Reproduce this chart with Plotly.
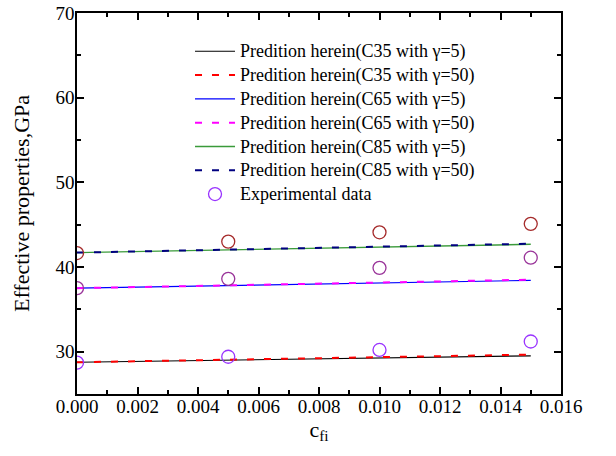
import plotly.graph_objects as go

cfi = [0.0, 0.005, 0.010, 0.015]

c35_g5 = [28.75, 29.02, 29.28, 29.50]
c35_g50 = [28.75, 29.05, 29.35, 29.65]
c65_g5 = [37.50, 37.80, 38.12, 38.42]
c65_g50 = [37.50, 37.83, 38.17, 38.50]
c85_g5 = [41.70, 42.02, 42.38, 42.68]
c85_g50 = [41.70, 42.04, 42.42, 42.75]

exp_c35 = [28.7, 29.4, 30.2, 31.2]
exp_c65 = [37.5, 38.6, 39.9, 41.1]
exp_c85 = [41.65, 43.0, 44.1, 45.1]

line_series = [
    ("Predition herein(C35 with γ=5)", c35_g5, "black", "solid", 1.2),
    ("Predition herein(C35 with γ=50)", c35_g50, "red", "7px,10px", 2),
    ("Predition herein(C65 with γ=5)", c65_g5, "blue", "solid", 1.2),
    ("Predition herein(C65 with γ=50)", c65_g50, "magenta", "7px,10px", 2),
    ("Predition herein(C85 with γ=5)", c85_g5, "#3a9a3a", "solid", 1.4),
    ("Predition herein(C85 with γ=50)", c85_g50, "navy", "7px,10px", 2),
]

def big(t):
    return '<span style="font-size:18px">' + t + '</span>'

fig = go.Figure()
for name, ys, col, dash, w in line_series:
    fig.add_trace(go.Scatter(x=cfi, y=ys, mode="lines", name=big(name),
                             line=dict(color=col, dash=dash, width=w)))

exp_sets = [(exp_c35, "#9933ff", True), (exp_c65, "#993399", False), (exp_c85, "#a52a2a", False)]
for ys, col, show in exp_sets:
    fig.add_trace(go.Scatter(x=cfi, y=ys, mode="markers", name=big("Experimental data"),
                             showlegend=show,
                             marker=dict(symbol="circle-open", size=13, color=col,
                                         line=dict(width=1.3, color=col))))

font = dict(family="Liberation Serif, Times New Roman, serif", color="black")

fig.update_layout(
    width=616, height=456,
    margin=dict(l=77, r=55, t=13, b=62),
    paper_bgcolor="white", plot_bgcolor="white",
    font=dict(**font, size=19),
    legend=dict(x=0.2335, y=0.944, xanchor="left", yanchor="top",
                bgcolor="rgba(0,0,0,0)", font=dict(**font, size=16),
                tracegroupgap=0, itemwidth=40),
    showlegend=True,
)
fig.update_xaxes(range=[0, 0.016], tick0=0, dtick=0.002, tickformat=".3f",
                 automargin=False,
                 ticks="inside", ticklen=7, tickwidth=1.5, tickcolor="black",
                 ticklabelstandoff=-6,
                 minor=dict(ticks="inside", ticklen=4, dtick=0.001, tickcolor="black", tickwidth=1.5),
                 showline=True, linecolor="black", linewidth=1.5, mirror="ticks",
                 showgrid=False, zeroline=False,
                 title=dict(text="c<sub>fi</sub>", font=dict(**font, size=22), standoff=4))
fig.update_yaxes(range=[25, 70], tick0=30, dtick=10,
                 automargin=False,
                 ticks="inside", ticklen=7, tickwidth=1.5, tickcolor="black",
                 ticklabelstandoff=-3,
                 minor=dict(ticks="inside", ticklen=4, dtick=5, tickcolor="black", tickwidth=1.5),
                 showline=True, linecolor="black", linewidth=1.5, mirror="ticks",
                 showgrid=False, zeroline=False,
                 title=dict(text="Effective properties,GPa", font=dict(**font, size=22), standoff=20))

fig.write_html("out.html", config={"displayModeBar": False},
               post_script="document.body.style.margin='0';document.body.style.overflow='hidden';")
